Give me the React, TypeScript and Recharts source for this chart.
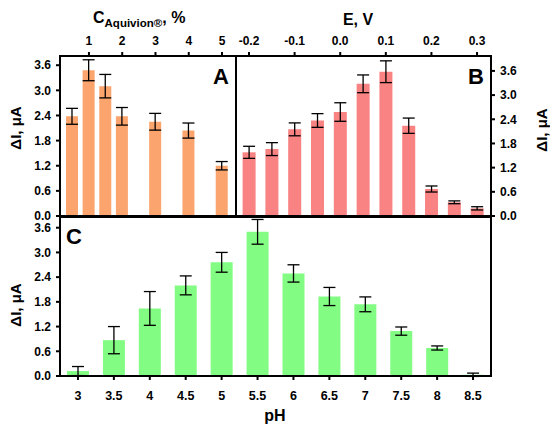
import React from 'react';
import { BarChart, Bar, XAxis, YAxis, ErrorBar } from 'recharts';

// panel A: Aquivion concentration, %
const aquivion = [0.5, 1, 1.5, 2, 3, 4, 5];
const aquivionCurrent = [2.38, 3.48, 3.1, 2.38, 2.25, 2.04, 1.2];
const aquivionErr = [0.19, 0.25, 0.28, 0.21, 0.2, 0.18, 0.1];
const aquivionTicks = [1, 2, 3, 4, 5];

// panel B: potential, V
const potential = [-0.2, -0.15, -0.1, -0.05, 0, 0.05, 0.1, 0.15, 0.2, 0.25, 0.3];
const potentialCurrent = [1.58, 1.66, 2.15, 2.37, 2.58, 3.28, 3.58, 2.24, 0.67, 0.34, 0.19];
const potentialErr = [0.15, 0.16, 0.16, 0.17, 0.23, 0.22, 0.27, 0.19, 0.075, 0.035, 0.04];
const potentialTicks = [-0.2, -0.1, 0, 0.1, 0.2, 0.3];

// panel C: pH
const pH = ['3', '3.5', '4', '4.5', '5', '5.5', '6', '6.5', '7', '7.5', '8', '8.5'];
const pHCurrent = [0.12, 0.87, 1.64, 2.2, 2.76, 3.5, 2.49, 1.93, 1.74, 1.09, 0.68, 0.03];
const pHErr = [0.11, 0.33, 0.41, 0.23, 0.24, 0.3, 0.21, 0.22, 0.18, 0.1, 0.05, 0.04];

const currentTicks = [0, 0.6, 1.2, 1.8, 2.4, 3.0, 3.6];

const dataA = aquivion.map((c, i) => ({ c, v: aquivionCurrent[i], e: aquivionErr[i] }));
const dataB = potential.map((c, i) => ({ c, v: potentialCurrent[i], e: potentialErr[i] }));
const dataC = pH.map((c, i) => ({ c, v: pHCurrent[i], e: pHErr[i] }));

const font = 'Liberation Sans, Arial, sans-serif';
const tickStyle = { fontSize: 12, fontWeight: 700, fill: '#000', fontFamily: font };
const line = { stroke: '#000', strokeWidth: 2 };
const fmt = (v: number) => v.toFixed(1);

const W = 550;
const H = 430;

// plot areas (set by the chart margins + axis sizes below)
const plotA = { x: 60, y: 56, w: 176, h: 160 };
const plotB = { x: 236, y: 56, w: 255, h: 160 };
const plotC = { x: 60, y: 217, w: 431, h: 159 };

const layer: React.CSSProperties = { position: 'absolute', left: 0, top: 0 };

const Frame = ({ p }: { p: { x: number; y: number; w: number; h: number } }) => (
  <rect x={p.x} y={p.y} width={p.w} height={p.h} fill="none" stroke="#000" strokeWidth={2} />
);

export default function App() {
  return (
    <div style={{ position: 'absolute', left: 0, top: 0, width: W, height: H, background: '#fff' }}>
      <div style={layer}>
        <BarChart width={W} height={H} data={dataA} margin={{ top: 0, left: 0, right: W - plotA.x - plotA.w, bottom: H - plotA.y - plotA.h }}>
          <XAxis
            type="number"
            dataKey="c"
            orientation="top"
            height={plotA.y}
            domain={[0.13, 5.42]}
            ticks={aquivionTicks}
            tick={tickStyle}
            tickSize={4}
            tickMargin={7}
            axisLine={line}
            tickLine={line}
          />
          <YAxis
            width={plotA.x}
            domain={[0, 3.82]}
            ticks={currentTicks}
            tickFormatter={fmt}
            tick={tickStyle}
            tickSize={4}
            tickMargin={5}
            axisLine={line}
            tickLine={line}
          />
          <Bar dataKey="v" fill="#FBA46E" barSize={12} isAnimationActive={false}>
            <ErrorBar dataKey="e" direction="y" width={6} stroke="#000" strokeWidth={1.3} />
          </Bar>
        </BarChart>
      </div>
      <div style={layer}>
        <BarChart width={W} height={H} data={dataB} margin={{ top: 0, left: plotB.x, right: 0, bottom: H - plotB.y - plotB.h }}>
          <XAxis
            type="number"
            dataKey="c"
            orientation="top"
            height={plotB.y}
            domain={[-0.2285, 0.3306]}
            ticks={potentialTicks}
            tickFormatter={fmt}
            tick={tickStyle}
            tickSize={4}
            tickMargin={7}
            axisLine={line}
            tickLine={line}
          />
          <YAxis
            orientation="right"
            width={W - plotB.x - plotB.w}
            domain={[0, 3.97]}
            ticks={currentTicks}
            tickFormatter={fmt}
            tick={tickStyle}
            tickSize={4}
            tickMargin={5}
            axisLine={line}
            tickLine={line}
          />
          <Bar dataKey="v" fill="#F98282" barSize={13} isAnimationActive={false}>
            <ErrorBar dataKey="e" direction="y" width={6} stroke="#000" strokeWidth={1.3} />
          </Bar>
        </BarChart>
      </div>
      <div style={layer}>
        <BarChart width={W} height={H} data={dataC} margin={{ top: plotC.y, left: 0, right: W - plotC.x - plotC.w, bottom: 0 }}>
          <XAxis
            dataKey="c"
            orientation="bottom"
            height={H - plotC.y - plotC.h}
            tick={{ ...tickStyle, fontSize: 12.5 }}
            tickSize={4}
            tickMargin={11}
            axisLine={line}
            tickLine={line}
            interval={0}
          />
          <YAxis
            width={plotC.x}
            domain={[0, 3.86]}
            allowDataOverflow
            ticks={currentTicks}
            tickFormatter={fmt}
            tick={tickStyle}
            tickSize={4}
            tickMargin={5}
            axisLine={line}
            tickLine={line}
          />
          <Bar dataKey="v" fill="#82FC82" barSize={22} isAnimationActive={false}>
            <ErrorBar dataKey="e" direction="y" width={6} stroke="#000" strokeWidth={1.3} />
          </Bar>
        </BarChart>
      </div>
      <svg width={W} height={H} style={{ ...layer, pointerEvents: 'none' }} fontFamily={font} fontWeight={700}>
        <Frame p={plotA} />
        <Frame p={plotB} />
        <Frame p={plotC} />
        <text x={93} y={23} fontSize={16}>
          C<tspan fontSize={11.5} dy={4}>Aquivion®</tspan>
          <tspan dy={-4}>, %</tspan>
        </text>
        <text x={358} y={25} fontSize={16} textAnchor="middle">E, V</text>
        <text x={229} y={84} fontSize={22} textAnchor="end">A</text>
        <text x={484} y={84} fontSize={22} textAnchor="end">B</text>
        <text x={66} y={244} fontSize={22}>C</text>
        <text transform="translate(15,128) rotate(-90)" fontSize={15} textAnchor="middle" dominantBaseline="central">ΔI, μA</text>
        <text transform="translate(15,305) rotate(-90)" fontSize={15} textAnchor="middle" dominantBaseline="central">ΔI, μA</text>
        <text transform="translate(541,130) rotate(-90)" fontSize={15} textAnchor="middle" dominantBaseline="central">ΔI, μA</text>
        <text x={275} y={421} fontSize={16} textAnchor="middle">pH</text>
      </svg>
    </div>
  );
}
